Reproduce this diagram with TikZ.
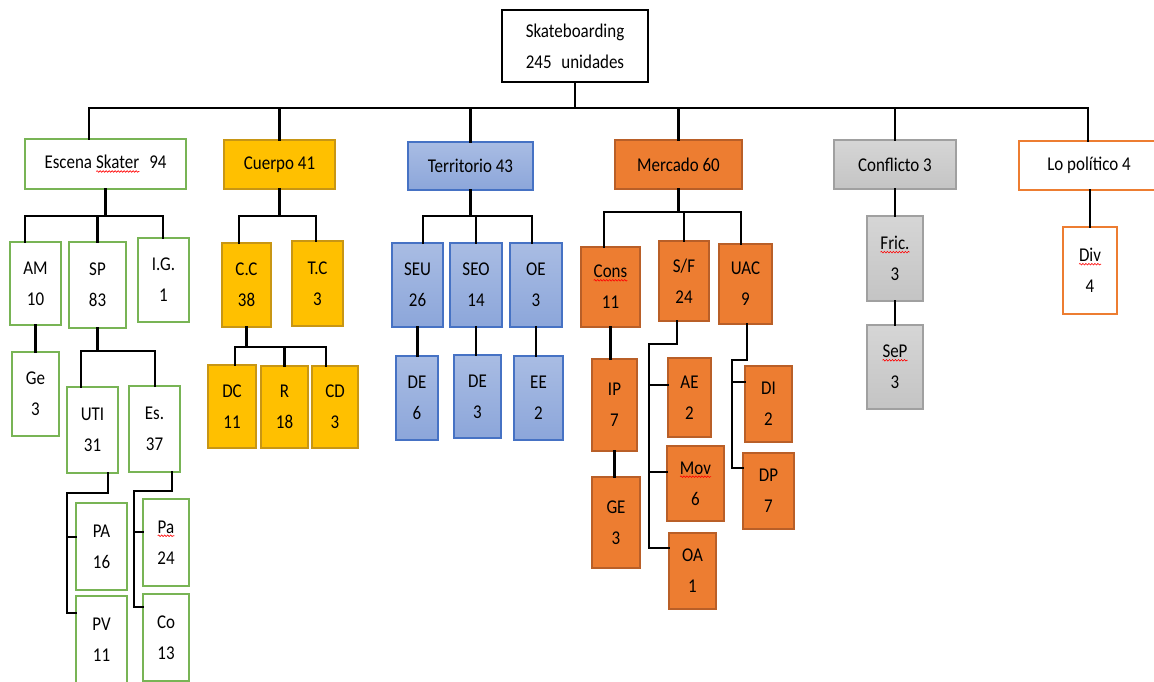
\documentclass[tikz,border=0pt]{standalone}
\usepackage{fontspec}
\setmainfont{Carlito}[FakeStretch=0.87]
\usetikzlibrary{calc,decorations.pathmorphing}
\definecolor{escgreen}{RGB}{120,180,85}
\definecolor{cuegold}{RGB}{255,192,0}
\definecolor{cueline}{RGB}{200,150,20}
\definecolor{terfill}{RGB}{140,166,218}
\definecolor{terline}{RGB}{70,114,196}
\definecolor{merfill}{RGB}{237,125,49}
\definecolor{merline}{RGB}{185,95,40}
\definecolor{confill}{RGB}{196,196,196}
\definecolor{conline}{RGB}{160,160,160}
\newcommand{\spellmark}[1]{\tikz[baseline=(w.base),x=1pt,y=1pt]{%
  \node[inner sep=0pt,outer sep=0pt,minimum width=0pt,minimum height=0pt,draw=none,fill=none,text=black] (w) {#1};
  \draw[red,line width=0.6pt,decorate,decoration={snake,amplitude=0.8pt,segment length=3pt}]
    ([yshift=-2.5pt]w.base west) -- ([yshift=-2.5pt]w.base east);}}
\tikzset{
  box/.style={draw,line width=1.1pt,inner sep=0pt,align=center,font=\fontsize{19.5}{31}\selectfont},
  wh/.style 2 args={minimum width=#1pt,minimum height=#2pt},
  escbox/.style={box,draw=escgreen,fill=white},
  cuebox/.style={box,draw=cueline,fill=cuegold},
  terbox/.style={box,draw=terline,top color=terfill!75!white,bottom color=terfill},
  merbox/.style={box,draw=merline,fill=merfill},
  conbox/.style={box,draw=conline,top color=confill!70!white,bottom color=confill},
  polbox/.style={box,draw=merfill,fill=white},
  conn/.style={draw=black,line width=2.6pt,line cap=rect},
}
\begin{document}
\begin{tikzpicture}[x=1pt,y=-1pt]
  \useasboundingbox (0,0) rectangle (1154,682);
  % root and first level
  \node[box,draw=black,fill=white,wh={146}{72}] (root) at (575,46) {Skateboarding\\245\enspace unidades};
  \node[escbox,wh={161}{50}] (esc) at (105.5,164) {Escena \spellmark{Skater}\enspace 94};
  \node[cuebox,wh={111}{49}] (cue) at (279.5,164.5) {Cuerpo 41};
  \node[terbox,wh={125}{48}] (ter) at (470.5,166) {Territorio 43};
  \node[merbox,wh={127}{49}] (mer) at (678.5,164.5) {Mercado 60};
  \node[conbox,wh={122}{49}] (con) at (895,164.5) {Conflicto 3};
  \node[polbox,wh={140}{49}] (pol) at (1089,165.5) {Lo político 4};
  % escena skater
  \node[escbox,wh={51}{83}] (am) at (35.5,283.5) {AM\\10};
  \node[escbox,wh={57}{86}] (sp) at (97.5,285) {SP\\83};
  \node[escbox,wh={51}{84}] (ig) at (163.5,280) {I.G.\\1};
  \node[escbox,wh={47}{84}] (ge) at (35.5,394) {Ge\\3};
  \node[escbox,wh={51}{86}] (uti) at (92.5,430) {UTI\\31};
  \node[escbox,wh={51}{86}] (es) at (154.5,429) {Es.\\37};
  \node[escbox,wh={51}{87}] (pa) at (101.5,546.5) {PA\\16};
  \node[escbox,wh={51}{88}] (pv) at (101.5,640) {PV\\11};
  \node[escbox,wh={46}{87}] (pab) at (166,542.5) {\spellmark{Pa}\\24};
  \node[escbox,wh={46}{87}] (co) at (166,637.5) {Co\\13};
  % cuerpo
  \node[cuebox,wh={49}{84}] (cc) at (246.5,285) {C.C\\38};
  \node[cuebox,wh={51}{85}] (tc) at (317.5,283.5) {T.C\\3};
  \node[cuebox,wh={48}{83}] (dc) at (232,406.5) {DC\\11};
  \node[cuebox,wh={47}{82}] (r) at (284.5,407) {R\\18};
  \node[cuebox,wh={46}{82}] (cd) at (335,407) {CD\\3};
  % territorio
  \node[terbox,wh={51}{84}] (seu) at (417.5,285) {SEU\\26};
  \node[terbox,wh={52}{84}] (seo) at (476,285) {SEO\\14};
  \node[terbox,wh={52}{84}] (oe) at (536,285) {OE\\3};
  \node[terbox,wh={42}{84}] (dea) at (417,398) {DE\\6};
  \node[terbox,wh={47}{83}] (deb) at (477.5,396.5) {DE\\3};
  \node[terbox,wh={49}{84}] (ee) at (538.5,398) {EE\\2};
  % mercado
  \node[merbox,wh={59}{80}] (cons) at (610.5,287) {\spellmark{Cons}\\11};
  \node[merbox,wh={50}{80}] (sf) at (684,281) {S/F\\24};
  \node[merbox,wh={53}{80}] (uac) at (745.5,284) {UAC\\9};
  \node[merbox,wh={45}{92}] (ip) at (614.5,405) {IP\\7};
  \node[merbox,wh={48}{91}] (gee) at (616,522.5) {GE\\3};
  \node[merbox,wh={43}{79}] (ae) at (689.5,397.5) {AE\\2};
  \node[merbox,wh={57}{75}] (mov) at (695.5,483.5) {\spellmark{Mov}\\6};
  \node[merbox,wh={47}{76}] (oa) at (692.5,571) {OA\\1};
  \node[merbox,wh={47}{76}] (di) at (768.5,404) {DI\\2};
  \node[merbox,wh={51}{76}] (dp) at (768.5,491) {DP\\7};
  % conflicto, lo politico
  \node[conbox,wh={56}{85}] (fric) at (895,258.5) {\spellmark{Fric.}\\3};
  \node[conbox,wh={56}{84}] (sep) at (895,367) {\spellmark{SeP}\\3};
  \node[polbox,wh={54}{87}] (div) at (1090,270.5) {\spellmark{Div}\\4};

  % connectors, top
  \coordinate (top-l) at (89,108);
  \coordinate (top-r) at (1088,108);
  \draw[conn] (root) -- (root |- top-l);
  \draw[conn] (top-l |- esc.north) -- (top-l) -- (top-r) -- (top-r |- pol.north);
  \foreach \n in {cue,ter,mer,con}
    \draw[conn] (\n.north) -- (\n.north |- top-l);
  % escena skater
  \coordinate (esc-l) at (25,216);
  \coordinate (esc-r) at (163,216);
  \draw[conn] (esc) -- (esc |- esc-l);
  \draw[conn] (esc-l |- am.north) -- (esc-l) -- (esc-r) -- (esc-r |- ig.north);
  \draw[conn] (sp.north) -- (sp.north |- esc-l);
  \draw[conn] (am) -- (ge);
  \coordinate (sp-l) at (81,351);
  \coordinate (sp-r) at (155,351);
  \draw[conn] (sp) -- (sp |- sp-l);
  \draw[conn] (sp-l |- uti.north) -- (sp-l) -- (sp-r) -- (sp-r |- es.north);
  \coordinate (uti-a) at (108,493);
  \coordinate (uti-b) at (67,493);
  \coordinate (uti-c) at (67,613);
  \coordinate (uti-d) at (67,537);
  \draw[conn] (uti-a |- uti.south) -- (uti-a) -- (uti-b) -- (uti-c) -- (uti-c -| pv.west);
  \draw[conn] (uti-d) -- (uti-d -| pa.west);
  \coordinate (es-a) at (172,491);
  \coordinate (es-b) at (134,491);
  \coordinate (es-c) at (134,607);
  \coordinate (es-d) at (134,532);
  \draw[conn] (es-a |- es.south) -- (es-a) -- (es-b) -- (es-c) -- (es-c -| co.west);
  \draw[conn] (es-d) -- (es-d -| pab.west);
  % cuerpo
  \coordinate (cue-l) at (239,216);
  \coordinate (cue-r) at (316,216);
  \draw[conn] (cue) -- (cue |- cue-l);
  \draw[conn] (cue-l |- cc.north) -- (cue-l) -- (cue-r) -- (cue-r |- tc.north);
  \coordinate (cc-l) at (235,347);
  \coordinate (cc-r) at (326,347);
  \draw[conn] (cc) -- (cc |- cc-l);
  \draw[conn] (cc-l |- dc.north) -- (cc-l) -- (cc-r) -- (cc-r |- cd.north);
  \draw[conn] (r.north) -- (r.north |- cc-l);
  % territorio
  \coordinate (ter-l) at (423,216);
  \coordinate (ter-r) at (532,216);
  \draw[conn] (ter) -- (ter |- ter-l);
  \draw[conn] (ter-l |- seu.north) -- (ter-l) -- (ter-r) -- (ter-r |- oe.north);
  \draw[conn] (seo.north) -- (seo.north |- ter-l);
  \draw[conn] (seu.south) -- (seu.south |- dea.north);
  \draw[conn] (seo.south) -- (seo.south |- deb.north);
  \draw[conn] (oe.south) -- (oe.south |- ee.north);
  % mercado
  \coordinate (mer-l) at (604,212);
  \coordinate (mer-r) at (741,212);
  \draw[conn] (mer) -- (mer |- mer-l);
  \draw[conn] (mer-l |- cons.north) -- (mer-l) -- (mer-r) -- (mer-r |- uac.north);
  \draw[conn] (sf.north) -- (sf.north |- mer-l);
  \draw[conn] (cons.south) -- (cons.south |- ip.north);
  \draw[conn] (ip.south) -- (ip.south |- gee.north);
  \coordinate (sf-a) at (677,344);
  \coordinate (sf-b) at (649,344);
  \coordinate (sf-c) at (649,548);
  \coordinate (sf-d) at (649,385);
  \coordinate (sf-e) at (649,472);
  \draw[conn] (sf-a |- sf.south) -- (sf-a) -- (sf-b) -- (sf-c) -- (sf-c -| oa.west);
  \draw[conn] (sf-d) -- (sf-d -| ae.west);
  \draw[conn] (sf-e) -- (sf-e -| mov.west);
  \coordinate (uac-a) at (747,360);
  \coordinate (uac-b) at (732,360);
  \coordinate (uac-c) at (732,468);
  \coordinate (uac-d) at (732,382);
  \draw[conn] (uac-a |- uac.south) -- (uac-a) -- (uac-b) -- (uac-c) -- (uac-c -| dp.west);
  \draw[conn] (uac-d) -- (uac-d -| di.west);
  % conflicto, lo politico
  \draw[conn] (con) -- (fric);
  \draw[conn] (fric) -- (sep);
  \draw[conn] (div.north) -- (div.north |- pol.south);
\end{tikzpicture}
\end{document}
